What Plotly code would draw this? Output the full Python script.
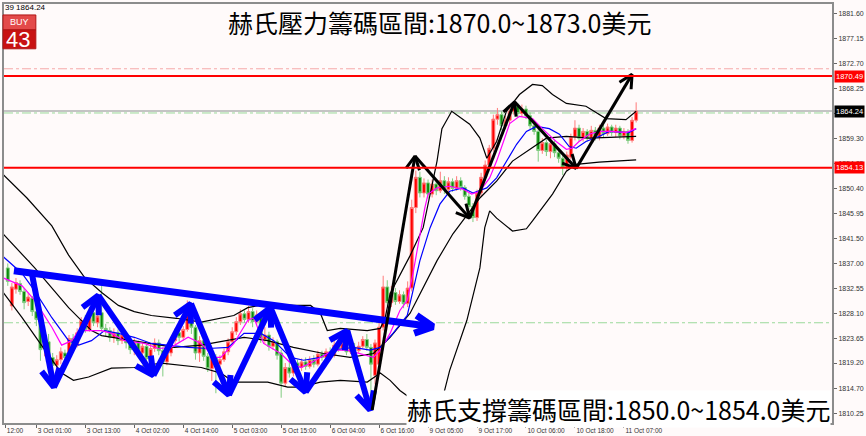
import math
import plotly.graph_objects as go

# ---------------- data ----------------
bar_index = list(range(155))
opens = [1836.2, 1829.4, 1832.4, 1833.4, 1832.0, 1830.2, 1830.8, 1828.4, 1827.2, 1821.8,
         1823.0, 1820.2, 1818.8, 1819.8, 1821.0, 1820.4, 1823.6, 1822.4, 1824.6, 1826.8,
         1825.2, 1828.2, 1826.4, 1828.2, 1825.4, 1825.0, 1823.8, 1824.6, 1823.2, 1824.2,
         1822.8, 1821.6, 1822.8, 1821.0, 1822.2, 1820.0, 1821.8, 1822.8, 1821.4, 1819.4,
         1821.0, 1823.2, 1824.6, 1823.8, 1825.2, 1829.4, 1825.6, 1821.0, 1823.2, 1820.4,
         1818.2, 1820.2, 1819.0, 1819.8, 1821.2, 1823.0, 1824.8, 1826.6, 1828.0, 1827.0,
         1828.4, 1826.6, 1827.8, 1823.4, 1824.2, 1822.2, 1823.0, 1821.0, 1815.6, 1818.4,
         1817.4, 1819.2, 1818.4, 1819.4, 1818.6, 1819.8, 1819.0, 1820.8, 1820.2, 1821.2,
         1820.6, 1822.4, 1821.8, 1822.8, 1821.2, 1822.0, 1821.4, 1822.2, 1823.4, 1822.0,
         1817.0, 1819.0, 1825.6, 1832.8, 1830.0, 1831.8, 1830.2, 1831.4, 1829.8, 1832.6,
         1847.0, 1852.4, 1849.6, 1851.4, 1849.4, 1851.2, 1850.0, 1851.8, 1850.2, 1851.6,
         1850.4, 1851.8, 1850.6, 1849.0, 1847.2, 1845.2, 1849.6, 1852.4, 1854.6, 1857.6,
         1862.8, 1863.6, 1861.6, 1862.6, 1864.2, 1865.2, 1863.8, 1864.6, 1863.4, 1861.6,
         1860.6, 1857.2, 1858.6, 1857.0, 1858.4, 1856.8, 1855.8, 1854.2, 1856.0, 1859.6,
         1861.2, 1859.4, 1860.6, 1859.4, 1860.8, 1859.6, 1861.2, 1860.2, 1861.4, 1860.4,
         1861.2, 1859.8, 1860.6, 1859.0, 1862.6]
closes = [1833.8, 1832.8, 1833.6, 1832.0, 1830.0, 1831.0, 1828.4, 1827.0, 1821.6, 1823.2,
          1820.0, 1818.8, 1819.8, 1821.2, 1820.2, 1823.6, 1822.4, 1824.6, 1826.8, 1825.2,
          1828.2, 1826.4, 1827.6, 1825.4, 1825.0, 1823.8, 1824.6, 1823.2, 1824.2, 1822.8,
          1821.6, 1822.8, 1821.0, 1822.2, 1820.0, 1821.8, 1822.8, 1821.4, 1819.4, 1821.0,
          1823.2, 1824.6, 1823.8, 1825.2, 1829.6, 1825.6, 1821.0, 1823.2, 1820.4, 1818.2,
          1820.2, 1819.0, 1819.8, 1821.2, 1823.0, 1824.8, 1826.6, 1828.0, 1827.0, 1828.4,
          1826.6, 1827.8, 1823.4, 1824.2, 1822.2, 1823.0, 1820.6, 1815.6, 1818.4, 1817.4,
          1819.2, 1818.4, 1819.4, 1818.6, 1819.8, 1819.0, 1820.8, 1820.2, 1821.2, 1820.6,
          1822.4, 1821.8, 1822.8, 1821.2, 1822.0, 1821.4, 1822.2, 1823.4, 1822.0, 1819.0,
          1822.8, 1825.6, 1832.8, 1830.0, 1831.8, 1830.2, 1831.4, 1829.8, 1832.6, 1847.0,
          1852.4, 1849.6, 1851.4, 1849.4, 1851.2, 1850.0, 1851.8, 1850.2, 1851.6, 1850.4,
          1851.8, 1850.6, 1849.0, 1847.2, 1845.2, 1849.6, 1852.4, 1854.6, 1857.6, 1862.8,
          1863.6, 1861.6, 1862.6, 1864.2, 1865.2, 1863.8, 1864.6, 1863.4, 1861.6, 1860.6,
          1857.2, 1858.6, 1857.0, 1858.4, 1856.8, 1855.8, 1854.2, 1856.4, 1859.6, 1861.2,
          1859.4, 1860.6, 1859.4, 1860.8, 1859.6, 1861.2, 1860.2, 1861.4, 1860.4, 1861.2,
          1859.8, 1860.6, 1859.0, 1862.6, 1864.24]
highs = [1837.0, 1833.5, 1834.4, 1834.0, 1832.6, 1831.8, 1831.2, 1829.0, 1827.6, 1824.0,
         1824.4, 1821.0, 1820.6, 1822.0, 1821.6, 1824.2, 1824.4, 1825.4, 1827.4, 1827.8,
         1829.2, 1828.8, 1828.6, 1833.0, 1826.2, 1825.6, 1825.4, 1825.2, 1825.0, 1824.8,
         1823.6, 1823.6, 1823.2, 1822.8, 1822.6, 1822.6, 1823.6, 1823.4, 1822.0, 1821.6,
         1823.8, 1825.4, 1825.4, 1825.8, 1830.4, 1830.0, 1826.0, 1824.0, 1824.2, 1821.0,
         1820.8, 1820.8, 1820.6, 1821.8, 1823.6, 1825.6, 1827.4, 1828.8, 1828.6, 1829.4,
         1829.0, 1828.6, 1828.2, 1825.6, 1824.8, 1823.8, 1823.4, 1821.6, 1819.2, 1819.6,
         1820.0, 1819.8, 1820.0, 1820.2, 1820.4, 1820.6, 1821.4, 1821.4, 1821.8, 1822.0,
         1823.2, 1823.0, 1823.6, 1823.2, 1822.6, 1822.8, 1823.0, 1824.0, 1824.4, 1822.6,
         1823.4, 1826.4, 1834.8, 1834.0, 1833.0, 1832.6, 1832.2, 1832.0, 1833.8, 1848.4,
         1853.6, 1853.4, 1852.2, 1852.0, 1852.0, 1851.8, 1853.4, 1852.6, 1852.4, 1852.2,
         1852.6, 1852.4, 1851.0, 1849.6, 1847.8, 1850.2, 1853.2, 1855.4, 1858.2, 1863.6,
         1864.8, 1864.2, 1863.4, 1865.0, 1866.0, 1865.6, 1865.4, 1865.2, 1864.0, 1862.2,
         1861.0, 1859.4, 1859.2, 1859.2, 1859.0, 1857.4, 1856.4, 1857.0, 1860.2, 1862.6,
         1861.8, 1861.2, 1861.0, 1861.6, 1861.4, 1861.8, 1861.8, 1862.0, 1861.8, 1861.8,
         1861.6, 1861.2, 1861.0, 1863.2, 1865.8]
lows = [1833.0, 1828.6, 1831.6, 1831.4, 1828.8, 1829.4, 1827.6, 1825.8, 1819.6, 1820.4,
        1819.0, 1817.0, 1818.0, 1819.0, 1819.2, 1820.0, 1821.8, 1822.0, 1824.0, 1824.6,
        1824.8, 1825.8, 1825.6, 1824.8, 1824.0, 1823.0, 1822.8, 1822.4, 1822.6, 1821.8,
        1820.8, 1820.6, 1820.2, 1820.4, 1819.4, 1819.2, 1821.2, 1820.6, 1816.8, 1818.8,
        1820.4, 1822.6, 1823.0, 1823.2, 1824.8, 1824.4, 1819.8, 1819.4, 1819.6, 1817.6,
        1816.0, 1813.8, 1818.2, 1819.4, 1820.6, 1822.4, 1824.2, 1826.0, 1826.4, 1826.4,
        1825.6, 1826.0, 1822.8, 1822.6, 1821.4, 1821.6, 1819.8, 1813.0, 1815.0, 1816.6,
        1816.8, 1817.8, 1817.8, 1818.0, 1818.2, 1818.4, 1818.6, 1819.6, 1819.8, 1820.0,
        1820.2, 1821.2, 1821.4, 1820.6, 1820.8, 1820.8, 1821.0, 1821.8, 1821.4, 1812.8,
        1815.4, 1818.2, 1825.0, 1829.4, 1829.2, 1829.6, 1829.8, 1829.0, 1829.2, 1832.0,
        1846.0, 1848.8, 1848.8, 1848.6, 1848.8, 1849.2, 1849.6, 1849.4, 1849.6, 1849.8,
        1850.0, 1850.0, 1848.4, 1846.6, 1844.4, 1844.6, 1849.0, 1851.8, 1854.0, 1857.0,
        1861.8, 1860.8, 1861.0, 1862.0, 1863.6, 1863.0, 1863.2, 1862.8, 1861.0, 1860.0,
        1855.2, 1856.6, 1856.2, 1855.8, 1856.0, 1855.0, 1852.8, 1853.6, 1855.6, 1859.0,
        1858.8, 1858.8, 1858.8, 1858.8, 1859.0, 1859.0, 1859.6, 1859.8, 1859.8, 1859.6,
        1859.2, 1859.2, 1858.4, 1858.6, 1862.2]

# Bollinger band lines (bar index, price)
bb_upper_x = [-1.4, 4.7, 10.8, 14.9, 18.8, 23.0, 27.1, 31.0, 35.2, 41.3, 47.4, 55.4, 58.8, 63.7,
              70.0, 74.2, 76.6, 78.3, 81.5, 88.1, 91.3, 92.5, 93.7, 98.6, 101.8, 105.2, 106.4,
              108.8, 113.2, 115.7, 117.4, 119.8, 122.2, 125.4, 128.6, 131.0, 133.5, 136.9,
              141.7, 146.6, 151.5, 154.0]
bb_upper_y = [1853.1, 1848.7, 1843.7, 1838.5, 1834.5, 1831.8, 1829.5, 1828.4, 1827.7, 1827.2,
              1826.5, 1827.7, 1829.1, 1829.8, 1829.5, 1829.5, 1828.1, 1825.0, 1825.4, 1825.0,
              1825.4, 1827.3, 1831.6, 1838.4, 1843.4, 1855.3, 1861.1, 1864.2, 1861.9, 1859.4,
              1855.8, 1858.8, 1864.2, 1867.2, 1869.0, 1868.8, 1867.2, 1865.6, 1865.1, 1862.9,
              1862.7, 1864.2]
bb_mid_x = [-1.4, 6.6, 14.9, 20.5, 23.0, 31.0, 40.8, 47.4, 57.9, 63.7, 70.0, 77.4, 83.9, 89.6,
            93.7, 98.6, 105.2, 109.1, 113.2, 115.7, 119.8, 123.7, 132.0, 136.9, 142.5, 154.0]
bb_mid_y = [1842.5, 1836.2, 1829.1, 1825.0, 1824.1, 1823.2, 1822.0, 1822.4, 1823.8, 1823.2,
            1822.0, 1820.9, 1820.2, 1820.9, 1823.8, 1828.1, 1837.5, 1842.3, 1846.4, 1848.7,
            1851.7, 1855.3, 1859.4, 1859.7, 1859.4, 1859.7]
bb_lower_x = [-1.4, 3.5, 9.1, 13.2, 16.1, 19.8, 25.4, 31.0, 37.6, 47.4, 52.2, 55.4, 63.7, 68.6,
              71.8, 76.6, 81.5, 88.1, 91.3, 93.7, 96.1, 99.3, 102.7, 105.2, 108.3, 112.5, 115.7,
              116.9, 118.1, 119.8, 123.7, 127.1, 128.6, 133.5, 136.9, 139.3, 144.9, 154.0]
bb_lower_y = [1832.1, 1827.3, 1821.5, 1817.4, 1816.1, 1816.7, 1818.3, 1818.4, 1819.2, 1818.4,
              1817.4, 1815.8, 1815.8, 1814.9, 1814.9, 1815.8, 1816.1, 1815.8, 1817.4, 1816.1,
              1814.3, 1812.6, 1807.2, 1809.0, 1817.9, 1826.8, 1836.2, 1843.4, 1846.4, 1845.1,
              1842.8, 1843.2, 1844.6, 1849.4, 1853.5, 1854.7, 1855.1, 1855.5]

# moving averages (bar index, price)
ma_fast_x = [-1.4, 3.5, 6.6, 10.8, 13.2, 15.7, 17.4, 20.5, 23.0, 25.4, 28.6, 33.5, 36.9, 40.0,
             44.2, 47.4, 50.5, 52.2, 55.4, 58.8, 60.3, 62.7, 64.4, 66.9, 69.3, 71.8, 74.2, 76.6,
             79.8, 83.2, 86.4, 89.6, 91.3, 93.7, 96.1, 97.9, 99.3, 101.0, 102.2, 103.0, 105.2,
             108.3, 111.5, 113.7, 115.7, 118.1, 119.8, 121.3, 123.0, 125.4, 128.6, 131.0, 134.4,
             136.9, 138.3, 140.0, 142.5, 144.9, 148.1, 151.5, 154.0]
ma_fast_y = [1834.5, 1833.0, 1830.4, 1825.6, 1822.4, 1823.2, 1825.0, 1825.0, 1825.0, 1824.5,
             1823.2, 1822.7, 1821.8, 1822.0, 1823.8, 1822.7, 1820.2, 1820.2, 1822.7, 1826.8,
             1827.3, 1822.7, 1822.0, 1820.9, 1819.2, 1818.4, 1819.2, 1820.2, 1821.5, 1821.5,
             1820.9, 1820.2, 1821.5, 1824.5, 1828.6, 1830.4, 1835.2, 1842.3, 1846.9, 1849.4,
             1850.5, 1850.8, 1850.3, 1849.4, 1849.9, 1852.3, 1855.3, 1858.4, 1862.0, 1863.3,
             1862.9, 1861.1, 1858.8, 1857.4, 1857.6, 1858.8, 1860.1, 1860.6, 1860.6, 1860.4,
             1861.1]
ma_slow_x = [-1.4, 3.5, 6.6, 10.8, 14.9, 17.4, 20.5, 23.7, 27.1, 31.0, 35.2, 39.3, 44.2, 49.1,
             54.0, 57.9, 62.0, 65.2, 69.3, 72.5, 76.6, 79.8, 84.7, 88.8, 91.3, 94.4, 97.9, 99.3,
             101.0, 103.5, 105.9, 108.3, 111.5, 114.0, 117.4, 119.8, 122.2, 124.7, 127.1, 129.6,
             132.7, 135.2, 137.6, 139.3, 141.7, 144.9, 147.4, 152.2, 154.0]
ma_slow_y = [1838.4, 1835.2, 1832.1, 1827.3, 1823.2, 1822.4, 1823.2, 1825.0, 1824.5, 1823.8,
             1822.7, 1822.4, 1822.0, 1821.8, 1822.0, 1824.5, 1824.5, 1823.2, 1820.2, 1819.7,
             1820.2, 1821.5, 1822.0, 1821.5, 1822.0, 1824.5, 1827.7, 1832.1, 1837.5, 1843.4,
             1847.6, 1849.9, 1850.5, 1849.6, 1850.5, 1852.3, 1855.3, 1858.3, 1860.6, 1861.5,
             1861.1, 1860.1, 1857.9, 1857.6, 1858.8, 1859.7, 1860.6, 1860.4, 1861.1]

# axis ticks
x_tick_idx = [-0.6, 7, 19, 31, 43, 55, 67, 79, 91, 103, 115, 127, 139, 151]
x_tick_text = ["12:00", "3 Oct 01:00", "3 Oct 13:00", "4 Oct 02:00", "4 Oct 14:00",
               "5 Oct 03:00", "5 Oct 15:00", "6 Oct 04:00", "6 Oct 16:00", "9 Oct 05:00",
               "9 Oct 17:00", "10 Oct 06:00", "10 Oct 18:00", "11 Oct 07:00"]
y_tick_vals = [1881.60, 1877.15, 1872.70, 1868.25, 1863.80, 1859.30, 1854.85, 1850.40,
               1845.95, 1841.50, 1837.00, 1832.55, 1828.10, 1823.65, 1819.20, 1814.70, 1810.25]

# horizontal levels
resistance_level = 1870.49
support_level = 1854.13
bid_level = 1864.24
ask_level = 1871.8
green_levels = [1863.9, 1826.4]

# hand-drawn arrows (bar index, price)
blue_trend_x = [1.5, 104.2]
blue_trend_y = [1835.7, 1825.7]
blue_zig_x = [5.9, 11.3, 22.2, 35.7, 44.9, 54.2, 64.4, 73.0, 83.2, 88.8]
blue_zig_y = [1835.2, 1814.9, 1831.3, 1817.0, 1829.8, 1813.5, 1829.1, 1814.0, 1825.0, 1810.8]
black_zig_x = [89.3, 99.8, 113.2, 124.2, 139.3, 153.0]
black_zig_y = [1810.8, 1856.2, 1845.1, 1865.9, 1854.0, 1870.8]

title_top = "赫氏壓力籌碼區間:1870.0~1873.0美元"
title_bottom = "赫氏支撐籌碼區間:1850.0~1854.0美元"

# ---------------- layout geometry ----------------
W, H = 866, 436
ML, MR, MT, MB = 2, 32, 2, 13
PW, PH = W - ML - MR, H - MT - MB
X0, X1 = -0.93, 202.0
Y0, Y1 = 1808.48, 1883.38
sx = PW / (X1 - X0)
sy = PH / (Y1 - Y0)


def px_x(px):
    return (px - ML) / PW


def px_y(py):
    return 1 - (py - MT) / PH


def arrow_paths(xs, ys, head_px, head_deg):
    lx, ly, hx, hy = [], [], [], []
    a = math.radians(head_deg)
    for k in range(len(xs) - 1):
        xa, ya, xb, yb = xs[k], ys[k], xs[k + 1], ys[k + 1]
        lx += [xa, xb, None]
        ly += [ya, yb, None]
        th = math.atan2((yb - ya) * sy, (xb - xa) * sx)
        wings = []
        for s in (1, -1):
            ang = th + math.pi + s * a
            wings.append((xb + head_px * math.cos(ang) / sx, yb + head_px * math.sin(ang) / sy))
        hx += [wings[0][0], xb, wings[1][0], None]
        hy += [wings[0][1], yb, wings[1][1], None]
    return lx, ly, hx, hy


fig = go.Figure()

fig.add_trace(go.Candlestick(
    x=bar_index, open=opens, high=highs, low=lows, close=closes,
    increasing=dict(fillcolor="#ff0000", line=dict(color="#ff7a7a", width=1)),
    decreasing=dict(fillcolor="#0a8a0a", line=dict(color="#80cc80", width=1)),
    whiskerwidth=0, hoverinfo="skip"))

for xs, ys in [(bb_upper_x, bb_upper_y), (bb_mid_x, bb_mid_y), (bb_lower_x, bb_lower_y)]:
    fig.add_trace(go.Scatter(x=xs, y=ys, mode="lines", line=dict(color="#000000", width=1.2),
                             hoverinfo="skip"))
fig.add_trace(go.Scatter(x=ma_slow_x, y=ma_slow_y, mode="lines",
                         line=dict(color="#0000ff", width=1.2), hoverinfo="skip"))
fig.add_trace(go.Scatter(x=ma_fast_x, y=ma_fast_y, mode="lines",
                         line=dict(color="#ff00ff", width=1.2), hoverinfo="skip"))

# arrows
for xs, ys, w, head, col in [(blue_trend_x, blue_trend_y, 7, 20, "#0000ff"),
                             (blue_zig_x, blue_zig_y, 6, 20, "#0000ff"),
                             (black_zig_x, black_zig_y, 3, 15, "#000000")]:
    lx, ly, hx, hy = arrow_paths(xs, ys, head, 27)
    fig.add_trace(go.Scatter(x=lx, y=ly, mode="lines", line=dict(color=col, width=w),
                             hoverinfo="skip"))
    fig.add_trace(go.Scatter(x=hx, y=hy, mode="lines", line=dict(color=col, width=w),
                             hoverinfo="skip"))

shapes = []
shapes.append(dict(type="line", xref="paper", x0=0, x1=1, yref="y", y0=ask_level, y1=ask_level,
                   line=dict(color="#f6a8a8", width=1, dash="dashdot"), layer="below"))
shapes.append(dict(type="line", xref="paper", x0=0, x1=1, yref="y", y0=bid_level, y1=bid_level,
                   line=dict(color="#c4c4c4", width=2), layer="below"))
for g in green_levels:
    shapes.append(dict(type="line", xref="paper", x0=0, x1=1, yref="y", y0=g, y1=g,
                       line=dict(color="#9ad99a", width=1, dash="dashdot"), layer="below"))
for lv in (resistance_level, support_level):
    shapes.append(dict(type="line", xref="paper", x0=0, x1=1, yref="y", y0=lv, y1=lv,
                       line=dict(color="#ff0000", width=2), layer="above"))
# BUY panel
shapes.append(dict(type="rect", xref="paper", yref="paper", x0=px_x(1), x1=px_x(34),
                   y0=px_y(28), y1=px_y(13), fillcolor="#e34a4a", line=dict(color="#b01515", width=1),
                   layer="above"))
shapes.append(dict(type="rect", xref="paper", yref="paper", x0=px_x(1), x1=px_x(34),
                   y0=px_y(47), y1=px_y(28), fillcolor="#c81212", line=dict(color="#b01515", width=1),
                   layer="above"))

annotations = []
annotations.append(dict(xref="paper", yref="paper", x=px_x(440), y=px_y(20), text=title_top,
                        showarrow=False, xanchor="center", yanchor="middle",
                        font=dict(family="Noto Sans CJK TC", size=25, color="#000000")))
annotations.append(dict(xref="paper", yref="paper", x=px_x(619), y=px_y(409), text=title_bottom,
                        showarrow=False, xanchor="center", yanchor="middle", bgcolor="#ffffff",
                        borderpad=0,
                        font=dict(family="Noto Sans CJK TC", size=25, color="#000000")))
annotations.append(dict(xref="paper", yref="paper", x=px_x(1), y=px_y(6), text="39 1864.24",
                        showarrow=False, xanchor="left", yanchor="middle",
                        font=dict(family="Liberation Sans", size=8, color="#000000")))
annotations.append(dict(xref="paper", yref="paper", x=px_x(17.5), y=px_y(20), text="BUY",
                        showarrow=False, xanchor="center", yanchor="middle",
                        font=dict(family="Liberation Sans", size=9, color="#ffffff")))
annotations.append(dict(xref="paper", yref="paper", x=px_x(16), y=px_y(38), text="43",
                        showarrow=False, xanchor="center", yanchor="middle",
                        font=dict(family="Liberation Sans", size=22, color="#ffffff")))
for lv, bg in [(resistance_level, "#ff0000"), (bid_level, "#000000"), (support_level, "#ff0000")]:
    annotations.append(dict(xref="paper", yref="y", x=1, y=lv, text=f"{lv:.2f}", showarrow=False,
                            xanchor="left", yanchor="middle", xshift=2, bgcolor=bg, borderpad=1,
                            font=dict(family="Liberation Sans", size=7.5, color="#ffffff")))

fig.update_layout(
    width=W, height=H,
    margin=dict(l=ML, r=MR, t=MT, b=MB, pad=0),
    paper_bgcolor="#fffafa", plot_bgcolor="#fffafa",
    showlegend=False, boxgap=0.15, boxgroupgap=0.15,
    shapes=shapes, annotations=annotations,
    xaxis=dict(range=[X0, X1], showgrid=False, zeroline=False, showline=True, mirror=True,
               linecolor="#8c8c8c", linewidth=2, ticks="outside", ticklen=3, tickcolor="#666666",
               tickvals=x_tick_idx, ticktext=x_tick_text, ticklabelposition="outside right",
               tickangle=0,
               tickfont=dict(family="Liberation Sans", size=6.5, color="#333333"),
               rangeslider=dict(visible=False), fixedrange=True),
    yaxis=dict(range=[Y0, Y1], side="right", showgrid=False, zeroline=False, showline=True,
               mirror=True, linecolor="#8c8c8c", linewidth=2, ticks="outside", ticklen=3,
               tickcolor="#666666", tickvals=y_tick_vals,
               ticktext=[f"{v:.2f}" for v in y_tick_vals],
               tickfont=dict(family="Liberation Sans", size=7, color="#333333"), fixedrange=True),
)

fig.write_html("out.html", config={"displayModeBar": False},
               post_script="document.body.style.margin='0';document.body.style.background='#fffafa';")
